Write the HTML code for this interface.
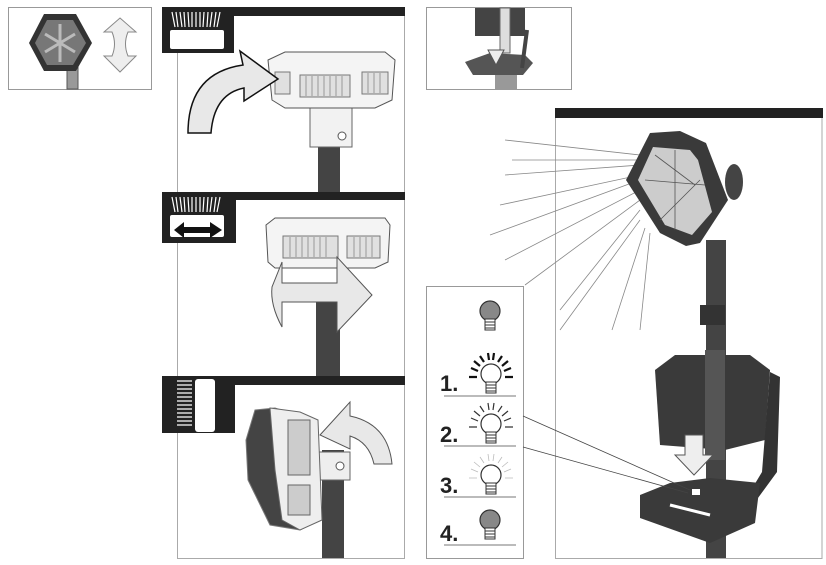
<!DOCTYPE html>
<html><head><meta charset="utf-8"><style>
html,body{margin:0;padding:0;background:#fff;width:826px;height:565px;overflow:hidden}
svg{display:block}
text{font-family:"Liberation Sans",sans-serif;font-weight:bold;fill:#222}
</style></head><body>
<svg width="826" height="565" viewBox="0 0 826 565" xmlns="http://www.w3.org/2000/svg">
<defs>
<g id="bulbgray"><circle cx="0" cy="0" r="10" fill="#888" stroke="#333" stroke-width="1.2"/><rect x="-5" y="8" width="10" height="11" fill="#fff" stroke="#333"/><path d="M-5 11h10M-5 14h10M-5 17h10" stroke="#333"/></g>
<g id="bulbw"><circle cx="0" cy="0" r="10" fill="#fff" stroke="#333" stroke-width="1.2"/><rect x="-5" y="8" width="10" height="11" fill="#fff" stroke="#333"/><path d="M-5 11h10M-5 14h10M-5 17h10" stroke="#333"/></g>
<g id="rays"><path d="M-13 -3l-7-3M-11 -8l-6-5M-7 -12l-4-6M-2 -14l-1-7M2 -14l1-7M7 -12l4-6M11 -8l6-5M13 -3l7-3M-14 3h-8M14 3h8"/></g>
</defs>
<!-- top-left box -->
<rect x="8.5" y="7.5" width="143" height="82" fill="#fff" stroke="#999"/>
<rect x="67" y="60" width="11" height="29" fill="#999" stroke="#555"/>
<polygon points="44,14 76,14 92,43 76,71 44,71 29,43" fill="#333"/>
<polygon points="47,20 73,20 86,43 73,65 47,65 35,43" fill="#777"/>
<path d="M45 34l30 18M45 52l30-18M60 24v38" stroke="#bbb" stroke-width="3"/>
<path d="M120 18l16 14h-8q-5 12 0 24h8l-16 16-16-16h8q5-12 0-24h-8z" fill="#eee" stroke="#888"/>
<!-- middle panel frame -->
<path d="M177.5 53v505.5h227V7" fill="none" stroke="#aaa"/>
<!-- section 1 -->
<rect x="162" y="7" width="72" height="46" fill="#222"/>
<rect x="234" y="7" width="171" height="9" fill="#222"/>
<g stroke="#fff" stroke-width="1.2"><path d="M172 12l3 15M176 12l2 15M180 12l2 15M184 12l1 15M188 12l1 15M192 12v15M196 12v15M200 12v15M204 12l-1 15M208 12l-1 15M212 12l-2 15M216 12l-2 15M220 12l-3 15"/></g>
<rect x="170" y="30" width="54" height="19" rx="2" fill="#fff"/>
<rect x="318" y="135" width="22" height="57" fill="#444"/>
<rect x="310" y="103" width="42" height="44" fill="#f2f2f2" stroke="#666"/>
<polygon points="268,60 285,52 385,52 395,60 392,100 375,108 285,108 272,100" fill="#f4f4f4" stroke="#555"/>
<g stroke="#777"><rect x="300" y="75" width="50" height="22" fill="#e0e0e0"/><rect x="362" y="72" width="26" height="22" fill="#e0e0e0"/><rect x="275" y="72" width="15" height="22" fill="#e0e0e0"/></g>
<g stroke="#888" stroke-width="0.8"><path d="M306 76v20M312 76v20M318 76v20M324 76v20M330 76v20M336 76v20M342 76v20M368 73v20M374 73v20M380 73v20"/></g>
<circle cx="342" cy="136" r="4" fill="#fff" stroke="#555"/>
<path d="M188 133q0-60 55-68l-3-14 38 28-34 22 0-13q-30 6-33 45z" fill="#e8e8e8" stroke="#111" stroke-width="1.5"/>
<!-- section 2 -->
<rect x="316" y="298" width="24" height="78" fill="#444"/>
<rect x="162" y="192" width="74" height="51" fill="#222"/>
<rect x="236" y="192" width="169" height="8" fill="#222"/>
<g stroke="#fff" stroke-width="1.2"><path d="M172 197l3 15M176 197l2 15M180 197l2 15M184 197l1 15M188 197l1 15M192 197v15M196 197v15M200 197v15M204 197l-1 15M208 197l-1 15M212 197l-2 15M216 197l-2 15M220 197l-3 15"/></g>
<rect x="170" y="215" width="54" height="22" rx="2" fill="#fff"/>
<path d="M174 230l10-8v5h26v-5l12 8-12 8v-5h-26v5z" fill="#111"/>
<polygon points="266,225 275,218 385,218 390,225 388,262 375,268 275,268 268,262" fill="#f4f4f4" stroke="#555"/>
<g stroke="#777" fill="#e0e0e0"><rect x="283" y="236" width="55" height="22"/><rect x="347" y="236" width="33" height="22"/></g>
<g stroke="#888" stroke-width="0.8"><path d="M290 237v20M296 237v20M302 237v20M308 237v20M314 237v20M320 237v20M326 237v20M354 237v20M360 237v20M366 237v20M372 237v20"/></g>
<path d="M282 262l-10 25q-2 18 10 40v-25h55v30l35-37-35-38v26h-55z" fill="#e8e8e8" stroke="#555"/>
<!-- section 3 -->
<rect x="322" y="450" width="22" height="108" fill="#444"/>
<rect x="318" y="452" width="32" height="28" fill="#eee" stroke="#666"/>
<circle cx="340" cy="466" r="4" fill="#fff" stroke="#555"/>
<polygon points="255,410 275,408 312,420 320,520 300,530 270,525 248,480 246,440" fill="#444" stroke="#777"/>
<polygon points="270,408 300,412 318,420 322,520 300,530 282,520 275,470" fill="#eee" stroke="#666"/>
<g stroke="#666" fill="#ccc"><rect x="288" y="420" width="22" height="55"/><rect x="288" y="485" width="22" height="30"/></g>
<path d="M320 435l30-33v14q38 8 42 48h-18q-5-22-24-28v13z" fill="#e8e8e8" stroke="#555"/>
<rect x="162" y="376" width="73" height="57" fill="#222"/>
<rect x="235" y="376" width="170" height="9" fill="#222"/>
<g stroke="#fff" stroke-width="1.2"><path d="M177 381h15M177 385h15M177 389h15M177 393h15M177 397h15M177 401h15M177 405h15M177 409h15M177 413h15M177 417h15M177 421h15M177 425h15"/></g>
<rect x="195" y="379" width="20" height="53" rx="3" fill="#fff"/>
<!-- top middle box -->
<rect x="426.5" y="7.5" width="145" height="82" fill="#fff" stroke="#999"/>
<rect x="495" y="67" width="22" height="22" fill="#999"/>
<rect x="475" y="8" width="50" height="28" fill="#444"/>
<rect x="500" y="8" width="10" height="45" fill="#ddd" stroke="#666"/>
<path d="M465 62l25-9 35 2 8 8-10 12h-50z" fill="#555"/>
<path d="M527 30l-5 38" stroke="#444" stroke-width="4"/>
<path d="M488 50l8 15 8-15z" fill="#eee" stroke="#555"/>
<!-- right panel -->
<rect x="555" y="108" width="268" height="10" fill="#222"/>
<path d="M555.5 118v440.5h266.5V118" fill="none" stroke="#aaa"/>
<g stroke="#888" stroke-width="0.8">
<path d="M640 155L505 140M640 160L512 160M640 165L505 175M640 175L500 205M640 180L490 235M640 190L505 260M640 200L525 285M640 210L560 310M640 220L560 330M645 228L612 330M650 233L640 330"/>
</g>
<rect x="706" y="240" width="20" height="318" fill="#444"/>
<rect x="700" y="305" width="25" height="20" fill="#333"/>
<ellipse cx="734" cy="182" rx="9" ry="18" fill="#444"/>
<polygon points="650,133 680,131 706,143 728,200 700,243 686,246 660,233 626,180" fill="#3a3a3a"/>
<polygon points="653,147 690,150 698,160 712,212 692,235 665,225 638,180" fill="#ccc"/>
<g stroke="#555" stroke-width="0.8"><path d="M655 155l40 30M645 180l60 5M660 220l40-40M675 150v80"/></g>
<!-- bracket & base -->
<path d="M655 370l20-15 75 0 20 15 -5 70-40 10-65-5z" fill="#3a3a3a"/>
<rect x="705" y="350" width="20" height="110" fill="#555"/>
<path d="M770 372l-8 100-15 25 8 5 22-30 3-95z" fill="#333"/>
<path d="M640 495l30-12 40-5 50 5-5 40-45 20-70-25z" fill="#3a3a3a"/>
<path d="M670 505l40 10" stroke="#fff" stroke-width="3"/>
<path d="M685 435h18v20h10l-19 20-19-20h10z" fill="#eee" stroke="#555"/>
<rect x="692" y="489" width="8" height="6" fill="#fff"/>
<!-- legend -->
<rect x="426.5" y="286.5" width="97" height="272" fill="#fff" stroke="#999"/>
<path d="M523 416L690 490M523 447L688 493" stroke="#444" stroke-width="0.8"/>
<use href="#bulbgray" x="490" y="311"/>
<use href="#rays" x="491" y="374" stroke="#111" stroke-width="2.2"/>
<use href="#bulbw" x="491" y="374"/>
<use href="#rays" x="491" y="424" stroke="#333" stroke-width="1.2"/>
<use href="#bulbw" x="491" y="424"/>
<use href="#rays" x="491" y="475" stroke="#bbb" stroke-width="0.8"/>
<use href="#bulbw" x="491" y="475"/>
<use href="#bulbgray" x="490" y="520"/>
<text x="440" y="391" font-size="22">1.</text>
<text x="440" y="442" font-size="22">2.</text>
<text x="440" y="493" font-size="22">3.</text>
<text x="440" y="541" font-size="22">4.</text>
<g stroke="#777"><path d="M444 396h72M444 446h72M444 497h72M444 545h72"/></g>
</svg>
</body></html>
